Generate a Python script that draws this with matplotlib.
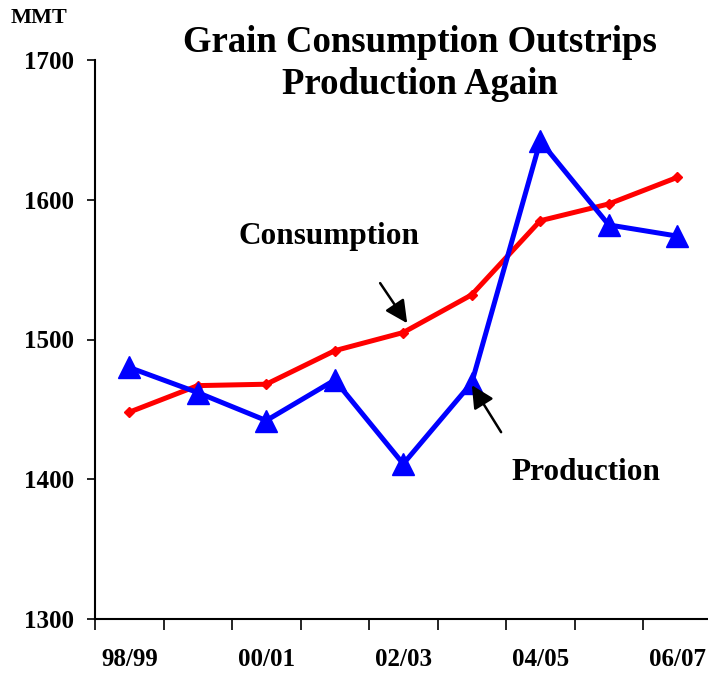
import numpy as np
import matplotlib.pyplot as plt

plt.rcParams['font.family'] = ['Liberation Serif', 'DejaVu Serif']
plt.rcParams['font.weight'] = 'bold'

years = ["98/99", "99/00", "00/01", "01/02", "02/03", "03/04", "04/05", "05/06", "06/07"]
consumption = [1448, 1467, 1468, 1492, 1505, 1532, 1585, 1597, 1616]
production = [1480, 1462, 1442, 1471, 1411, 1469, 1642, 1582, 1574]
y_ticks = [1300, 1400, 1500, 1600, 1700]

fig = plt.figure(figsize=(7.08, 6.77), dpi=100)
ax = fig.add_axes([95 / 708, 58 / 677, 616.5 / 708, 559 / 677])

x = np.arange(len(years))
ax.plot(x, consumption, color="#ff0000", lw=3.6, marker="D", ms=5.5, zorder=2)
ax.plot(x, production, color="#0000ff", lw=3.6, marker="^", ms=16, zorder=3)

ax.set_xlim(-0.5, len(years) - 0.5)
ax.set_ylim(1300, 1700)
ax.set_yticks(y_ticks)
ax.set_yticklabels([str(v) for v in y_ticks], fontsize=18, fontweight="bold")
ax.set_xticks(np.arange(-0.5, len(years), 1))
ax.set_xticklabels([])
ax.set_xticks(x[::2], minor=True)
ax.set_xticklabels(years[::2], minor=True, fontsize=18, fontweight="bold")
ax.tick_params(axis="x", which="major", length=8, width=1.2, direction="out")
ax.tick_params(axis="x", which="minor", length=0, pad=21)
ax.tick_params(axis="y", length=6, width=1.2, pad=9)

for s in ["top", "right"]:
    ax.spines[s].set_visible(False)
ax.spines["left"].set_linewidth(1.5)
ax.spines["bottom"].set_linewidth(1.5)

# arrows pointing at the two lines
ax.annotate("", xy=(4.08, 1510), xytext=(3.64, 1542),
            arrowprops=dict(arrowstyle="-|>", color="black", lw=1.8, mutation_scale=34))
ax.annotate("", xy=(4.98, 1469), xytext=(5.45, 1432),
            arrowprops=dict(arrowstyle="-|>", color="black", lw=1.8, mutation_scale=34))
ax.text(2.91, 1574, "Consumption", fontsize=22.5, fontweight="bold", ha="center", va="center")
ax.text(6.66, 1405, "Production", fontsize=22.5, fontweight="bold", ha="center", va="center")

fig.text(420 / 708, 1 - 42 / 677, "Grain Consumption Outstrips", fontsize=26.5,
         fontweight="bold", ha="center", va="center")
fig.text(420 / 708, 1 - 85 / 677, "Production Again", fontsize=26.5,
         fontweight="bold", ha="center", va="center")
fig.text(39 / 708, 1 - 18 / 677, "MMT", fontsize=16, fontweight="bold", ha="center", va="center")

fig.savefig("out.png", dpi=100)
